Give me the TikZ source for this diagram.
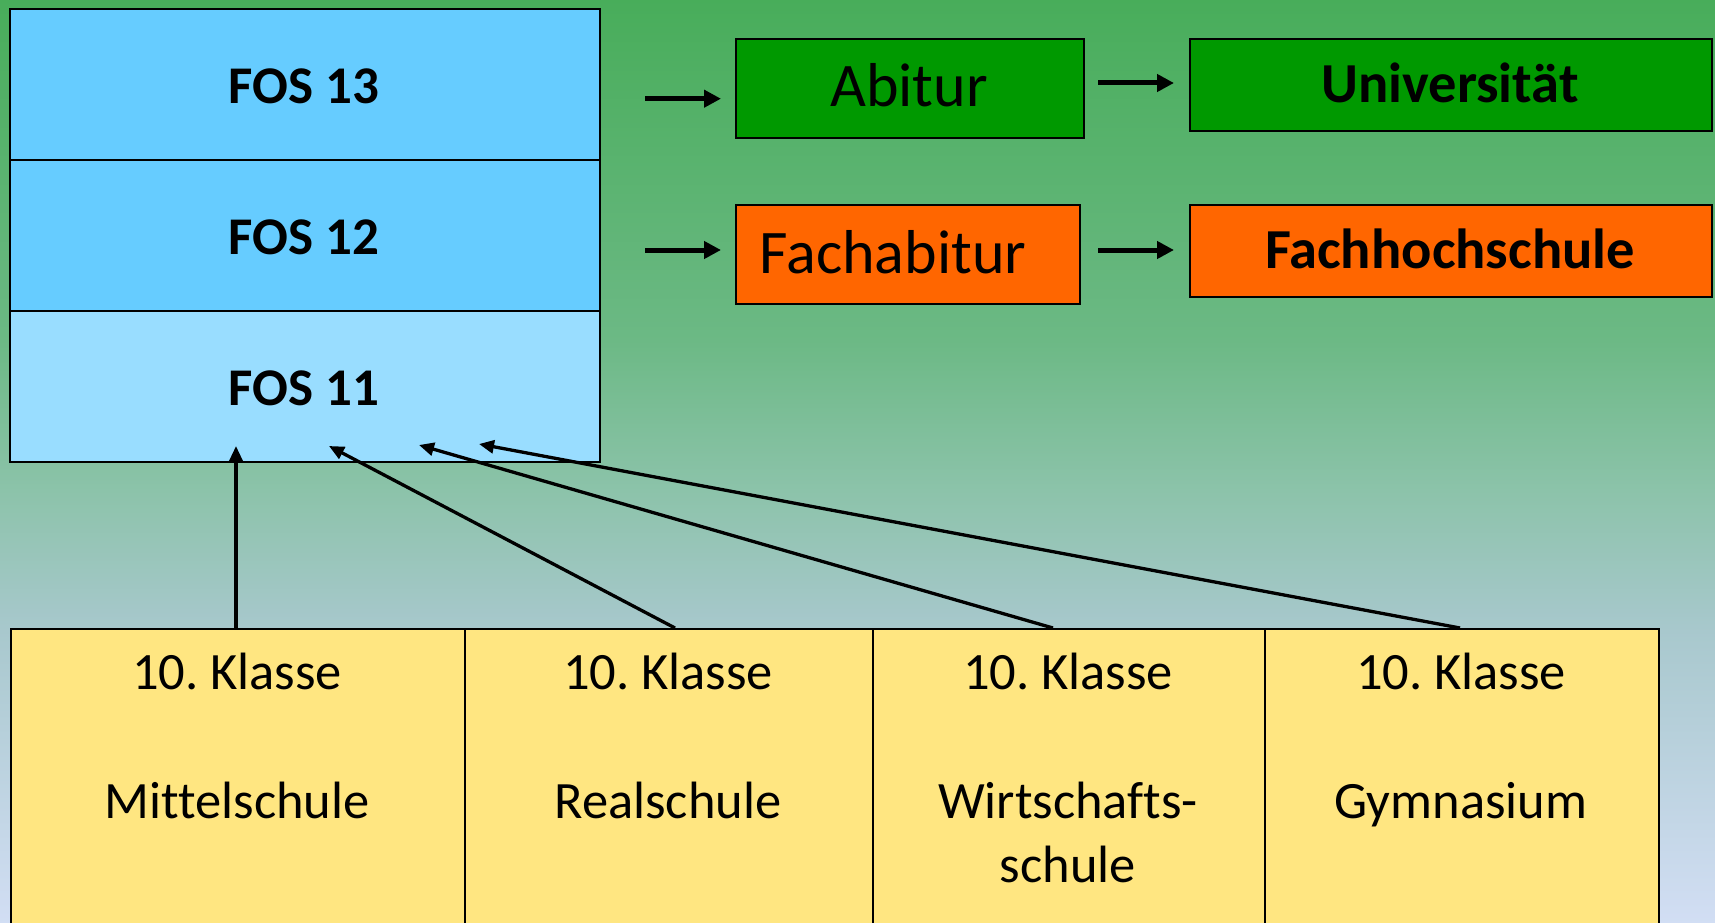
\documentclass[tikz,border=0pt]{standalone}
\usepackage{fontspec}
\setmainfont{Carlito}[Ligatures=NoCommon]
\frenchspacing
\usetikzlibrary{arrows.meta}

\definecolor{bgA}{HTML}{48AD5A}
\definecolor{bgB}{HTML}{6CB985}
\definecolor{bgC}{HTML}{8CC3AA}
\definecolor{bgD}{HTML}{A8C8CD}
\definecolor{bgE}{HTML}{D2DEF4}
\definecolor{fosdark}{HTML}{66CCFF}
\definecolor{foslight}{HTML}{99DDFF}
\definecolor{abigreen}{HTML}{009900}
\definecolor{fhorange}{HTML}{FF6600}
\definecolor{schoolyellow}{HTML}{FFE681}

\tikzset{
  box/.style={draw=black, line width=2pt, inner sep=0pt, anchor=north west},
  fostext/.style={anchor=base, inner sep=0pt, font=\fontsize{53}{64}\selectfont\bfseries},
  abitext/.style={anchor=base, inner sep=0pt, font=\fontsize{62}{74}\selectfont},
  hightext/.style={anchor=base, inner sep=0pt, font=\fontsize{56.5}{67}\selectfont\bfseries},
  klassetext/.style={anchor=base, inner sep=0pt, font=\fontsize{52.5}{64}\selectfont},
  flowarrow/.style={line width=5pt, -{Triangle[length=17pt,width=17pt]}},
  entryarrow/.style={line width=3.3pt, -{Triangle[length=15pt,width=13pt]}},
}

\begin{document}
\begin{tikzpicture}[x=1pt,y=-1pt]
\useasboundingbox (0,0) rectangle (1715,923);

% background: vertical gradient from green to pale blue
\begin{scope}[y=1pt]
  \fill[top color=bgA, bottom color=bgB] (0,1) rectangle (1715,-341);
  \fill[top color=bgB, bottom color=bgC] (0,-340) rectangle (1715,-491);
  \fill[top color=bgC, bottom color=bgD] (0,-490) rectangle (1715,-631);
  \fill[top color=bgD, bottom color=bgE] (0,-630) rectangle (1715,-924);
\end{scope}

% FOS column
\node[box, fill=fosdark,  minimum width=590pt, minimum height=151pt] (fos13) at (9,8) {};
\node[box, fill=fosdark,  minimum width=590pt, minimum height=151pt] (fos12) at (9,159) {};
\node[box, fill=foslight, minimum width=590pt, minimum height=151pt] (fos11) at (9,310) {};
\node[fostext] (t13) at (304,104) {FOS 13};
\node[fostext] (t12) at (304,254) {FOS 12};
\node[fostext] (t11) at (304,405) {FOS 11};

% qualifications and follow-up schools
\node[box, fill=abigreen, minimum width=348pt, minimum height=99pt] (abi) at (735,38) {};
\node[box, fill=abigreen, minimum width=522pt, minimum height=92pt] (uni) at (1189,38) {};
\node[box, fill=fhorange, minimum width=344pt, minimum height=99pt] (fabi) at (735,204) {};
\node[box, fill=fhorange, minimum width=522pt, minimum height=92pt] (fh) at (1189,204) {};
\node[abitext] (tabi) at (909,107) {Abitur};
\node[hightext] (tuni) at (1450,103) {Universität};
\node[abitext] (tfabi) at (893,273) {Fachabitur};
\node[hightext] (tfh) at (1450,268) {Fachhochschule};

% horizontal flow arrows
\coordinate (a1s) at (645,98.7);  \coordinate (a1e) at (721,98.7);
\coordinate (a2s) at (1098,83);   \coordinate (a2e) at (1174,83);
\coordinate (a3s) at (645,250);   \coordinate (a3e) at (721,250);
\coordinate (a4s) at (1098,250);  \coordinate (a4e) at (1174,250);
\draw[flowarrow] (a1s) -- (a1e);
\draw[flowarrow] (a2s) -- (a2e);
\draw[flowarrow] (a3s) -- (a3e);
\draw[flowarrow] (a4s) -- (a4e);

% school types after grade 10
\node[box, fill=schoolyellow, minimum width=454.2pt, minimum height=300pt] (ms) at (9.8,628) {};
\node[box, fill=schoolyellow, minimum width=408pt, minimum height=300pt] (rs) at (464,628) {};
\node[box, fill=schoolyellow, minimum width=392pt, minimum height=300pt] (ws) at (872,628) {};
\node[box, fill=schoolyellow, minimum width=394pt, minimum height=300pt] (gy) at (1264,628) {};

\node[klassetext] (k1) at (237,689) {10. Klasse};
\node[klassetext] (n1) at (237,818) {Mittelschule};
\node[klassetext] (k2) at (668,689) {10. Klasse};
\node[klassetext] (n2) at (668,818) {Realschule};
\node[klassetext] (k3) at (1068,689) {10. Klasse};
\node[klassetext] (n3a) at (1068,818) {Wirtschafts-};
\node[klassetext] (n3b) at (1068,882) {schule};
\node[klassetext] (k4) at (1461,689) {10. Klasse};
\node[klassetext] (n4) at (1461,818) {Gymnasium};

% entry arrows into FOS 11
\coordinate (s1) at (236,628);  \coordinate (e1) at (236,446);
\coordinate (s2) at (675,628);  \coordinate (e2) at (329,446);
\coordinate (s3) at (1053,628); \coordinate (e3) at (419,445);
\coordinate (s4) at (1460,628); \coordinate (e4) at (479,444);
\draw[entryarrow] (s1) -- (e1);
\draw[entryarrow] (s2) -- (e2);
\draw[entryarrow] (s3) -- (e3);
\draw[entryarrow] (s4) -- (e4);
\end{tikzpicture}
\end{document}
